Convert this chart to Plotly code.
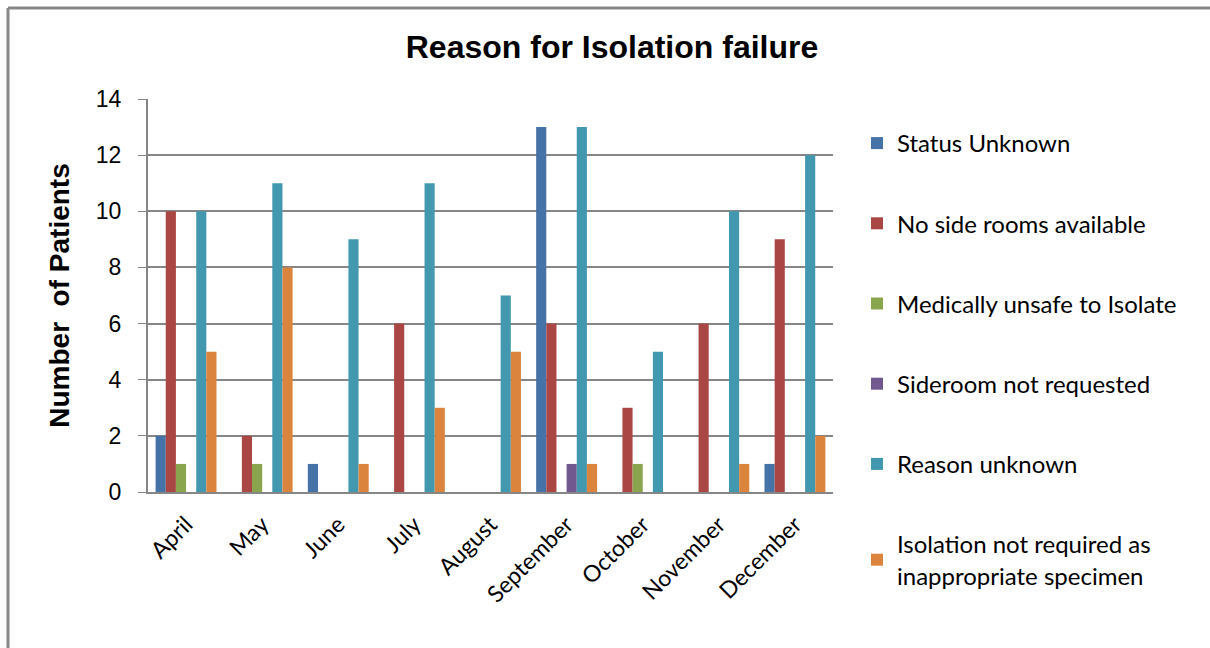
import plotly.graph_objects as go

months = ["April", "May", "June", "July", "August", "September",
          "October", "November", "December"]

status_unknown = [2, 0, 1, 0, 0, 13, 0, 0, 1]
no_side_rooms = [10, 2, 0, 6, 0, 6, 3, 6, 9]
medically_unsafe = [1, 1, 0, 0, 0, 0, 1, 0, 0]
sideroom_not_requested = [0, 0, 0, 0, 0, 1, 0, 0, 0]
reason_unknown = [10, 11, 9, 11, 7, 13, 5, 10, 12]
not_required = [5, 8, 1, 3, 5, 1, 0, 1, 2]

series = [
    ("Status Unknown", status_unknown, "#4572A7"),
    ("No side rooms available", no_side_rooms, "#AA4643"),
    ("Medically unsafe to Isolate", medically_unsafe, "#89A54E"),
    ("Sideroom not requested", sideroom_not_requested, "#71588F"),
    ("Reason unknown", reason_unknown, "#4198AF"),
    ("Isolation not required as<br>inappropriate specimen", not_required, "#DB843D"),
]

W, H = 1210, 648
ml, mr, mt, mb = 148, 377, 99, 156

fig = go.Figure()
for i, (name, vals, color) in enumerate(series):
    fig.add_trace(go.Bar(
        x=months, y=vals, name=name, legendgroup=f"g{i}",
        marker=dict(color=color, line=dict(width=0)),
    ))

pw = W - ml - mr
ph = H - mt - mb


def px_x(p):
    return (p - ml) / pw


def px_y(p):
    return (H - mb - p) / ph


frame = dict(color="#878787", width=3)

fig.update_layout(
    width=W, height=H,
    margin=dict(l=ml, r=mr, t=mt, b=mb),
    paper_bgcolor="white", plot_bgcolor="white",
    barmode="group", bargap=0.2, bargroupgap=0,
    title=dict(text="<b>Reason for Isolation failure</b>",
               x=612 / W, xanchor="center", y=1 - 47 / H, yanchor="middle",
               font=dict(family="Liberation Sans", size=32, color="black")),
    legend=dict(x=px_x(857), xanchor="left", y=px_y(121), yanchor="top",
                font=dict(family="Lato", size=24, color="black"),
                tracegroupgap=46, itemwidth=30, traceorder="grouped",
                maxheight=900, bgcolor="rgba(0,0,0,0)"),
    xaxis=dict(tickangle=-45, showline=True, linecolor="#868686", linewidth=2,
               tickfont=dict(family="Lato", size=23, color="black"),
               ticks="outside", ticklen=8, tickcolor="rgba(0,0,0,0)",
               showgrid=False),
    yaxis=dict(range=[0, 14], dtick=2, showline=True, linecolor="#868686",
               linewidth=2, gridcolor="#868686", gridwidth=2,
               ticks="outside", ticklen=8, tickcolor="#868686",
               ticklabelstandoff=12,
               tickfont=dict(family="Liberation Sans", size=23, color="black"),
               title=dict(text="<b>Number  of Patients</b>", standoff=18,
                          font=dict(family="Liberation Sans", size=28, color="black"))),
    shapes=[
        dict(type="line", xref="paper", yref="paper",
             x0=px_x(8), x1=px_x(1225), y0=px_y(8), y1=px_y(8), line=frame),
        dict(type="line", xref="paper", yref="paper",
             x0=px_x(8), x1=px_x(8), y0=px_y(8), y1=px_y(660), line=frame),
    ],
)

fig.write_html("out.html")
